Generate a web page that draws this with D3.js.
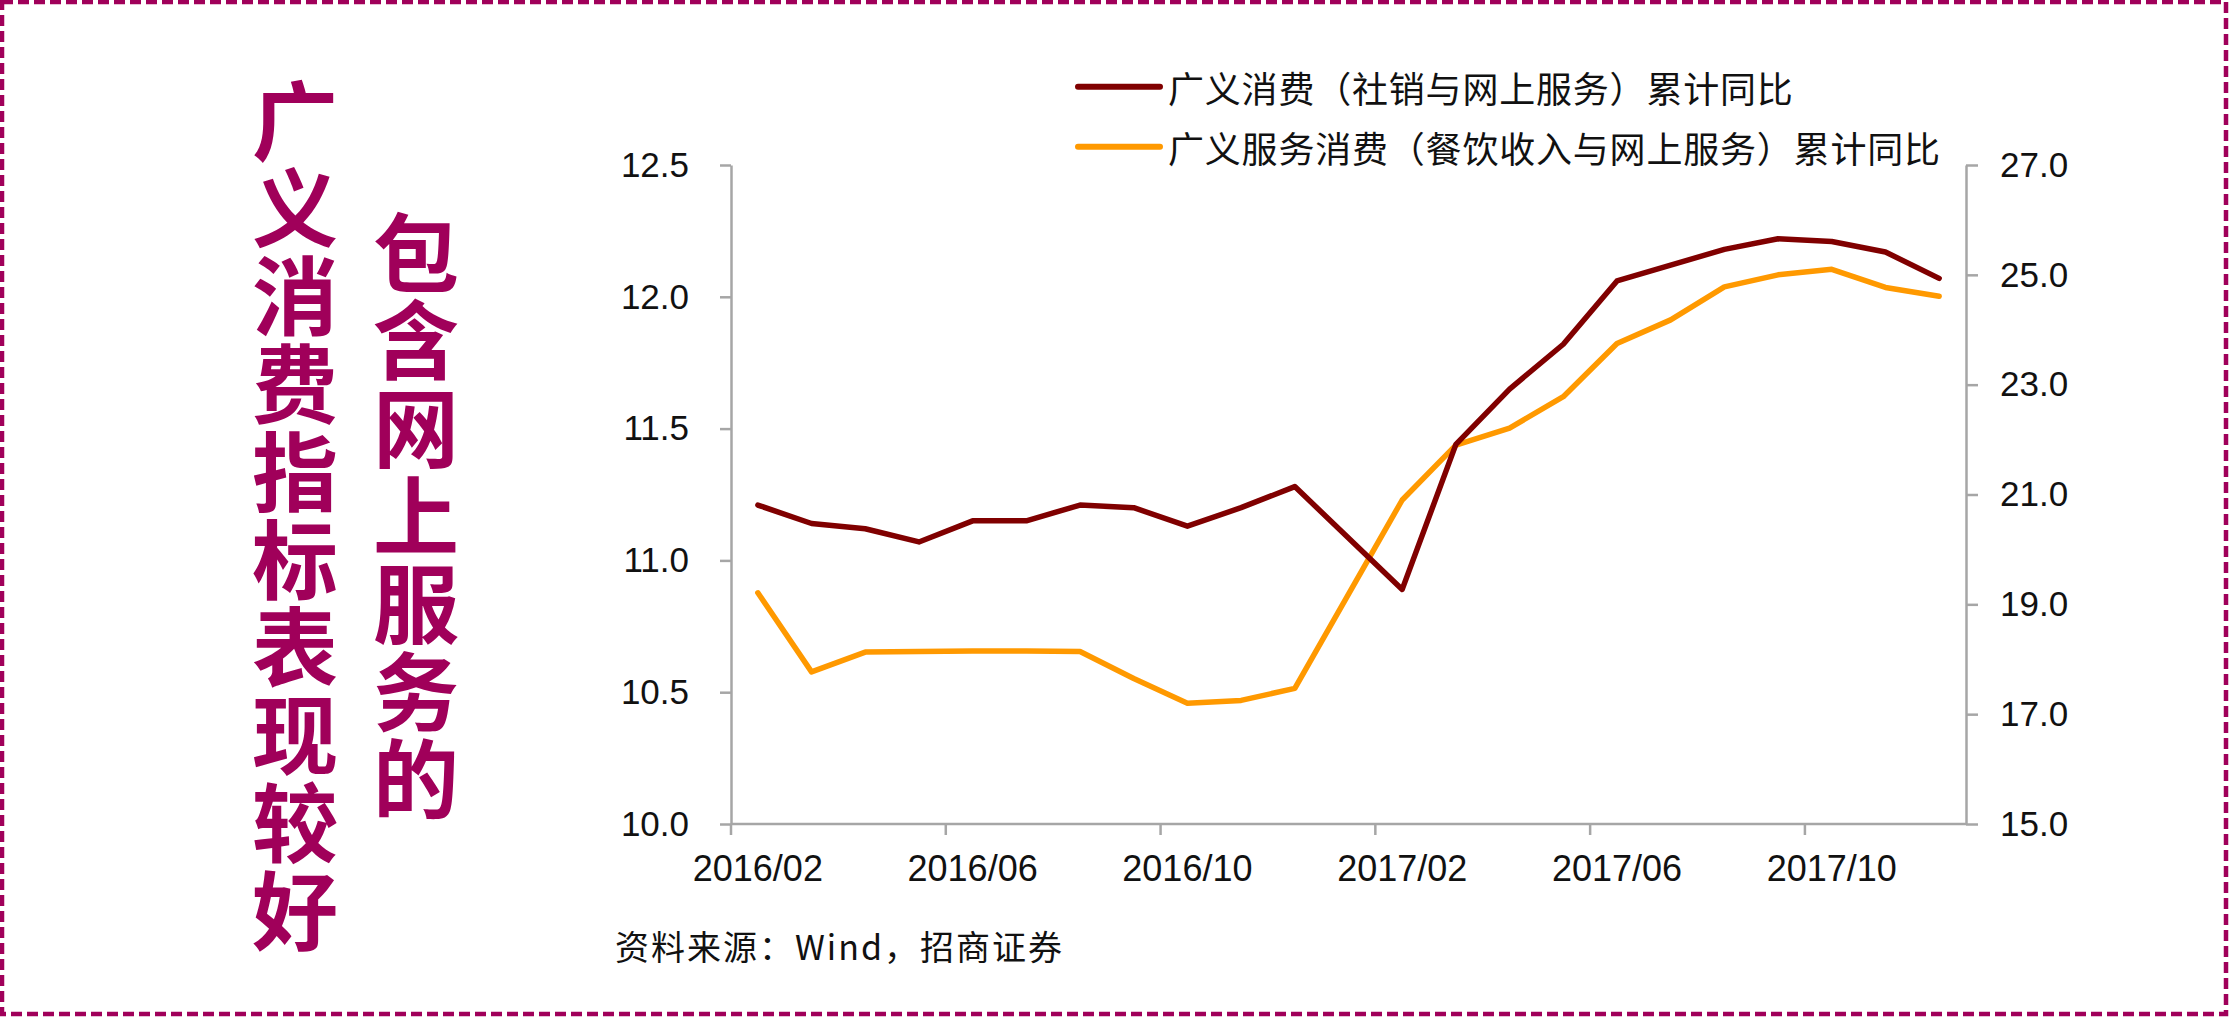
<!DOCTYPE html>
<html><head><meta charset="utf-8">
<script src="https://cdn.jsdelivr.net/npm/d3@7"></script>
<style>
html,body{margin:0;padding:0;background:#fff;}
svg{display:block;}
</style>
</head><body>
<script>
// ---- data ----
const months = ["2016/02","2016/03","2016/04","2016/05","2016/06","2016/07","2016/08","2016/09","2016/10","2016/11","2016/12",
  "2017/01","2017/02","2017/03","2017/04","2017/05","2017/06","2017/07","2017/08","2017/09","2017/10","2017/11","2017/12"];
const broadConsumption = [11.21,11.14,11.12,11.07,11.15,11.15,11.21,11.20,11.13,11.20,11.28,
  null,10.89,11.44,11.65,11.82,12.06,12.12,12.18,12.22,12.21,12.17,12.07];
const broadService = [19.21,17.77,18.13,18.14,18.15,18.15,18.14,17.65,17.20,17.25,17.47,
  null,20.90,21.90,22.21,22.78,23.75,24.18,24.78,25.00,25.10,24.77,24.61];
const seriesNames = ["广义消费（社销与网上服务）累计同比","广义服务消费（餐饮收入与网上服务）累计同比"];
const leftTicks = [10.0,10.5,11.0,11.5,12.0,12.5];
const rightTicks = [15.0,17.0,19.0,21.0,23.0,25.0,27.0];
const xLabelMonths = ["2016/02","2016/06","2016/10","2017/02","2017/06","2017/10"];
const titleCol1 = "广义消费指标表现较好";
const titleCol2 = "包含网上服务的";
const sourceText = "资料来源：Wind，招商证券";

// ---- layout ----
const W = 2229, H = 1017;
const plot = {left: 731, right: 1966, top: 165, bottom: 824};
const colors = {broad: "#800000", service: "#FF9900", axis: "#a6a6a6", accent: "#A0005A"};
const cjk = "'Noto Sans CJK SC','Noto Sans CJK JP',sans-serif";
const latin = "'Liberation Sans',Arial,sans-serif";

const svg = d3.select("body").append("svg").attr("width", W).attr("height", H);

// border
svg.append("rect").attr("x", 2).attr("y", 2).attr("width", 2224).attr("height", 1012)
  .attr("fill", "none").attr("stroke", colors.accent).attr("stroke-width", 4.5)
  .attr("stroke-dasharray", "11,5");

// title columns (vertical writing)
function vertText(str, cx, top) {
  svg.append("text").attr("x", cx).attr("y", top)
    .style("writing-mode", "vertical-rl")
    .style("letter-spacing", "1.8px")
    .attr("font-family", cjk).attr("font-size", 86)
    .attr("font-weight", 700).attr("fill", colors.accent)
    .text(str);
}
vertText(titleCol1, 295, 78);
vertText(titleCol2, 416, 210);

// scales
const x = d3.scaleBand().domain(months).range([plot.left, plot.right]).padding(0);
const yL = d3.scaleLinear().domain([10, 12.5]).range([plot.bottom, plot.top]);
const yR = d3.scaleLinear().domain([15, 27]).range([plot.bottom, plot.top]);
const cx = m => x(m) + x.bandwidth() / 2;

// left axis
const gL = svg.append("g").attr("transform", `translate(${plot.left},0)`)
  .call(d3.axisLeft(yL).tickValues(leftTicks).tickSize(11).tickSizeOuter(0).tickPadding(31).tickFormat(d3.format(".1f")));
// right axis
const gR = svg.append("g").attr("transform", `translate(${plot.right},0)`)
  .call(d3.axisRight(yR).tickValues(rightTicks).tickSize(12).tickSizeOuter(0).tickPadding(22).tickFormat(d3.format(".1f")));
[gL, gR].forEach(g => {
  g.selectAll("path.domain").attr("stroke", colors.axis).attr("stroke-width", 2.5);
  g.selectAll(".tick line").attr("stroke", colors.axis).attr("stroke-width", 2.5);
  g.selectAll(".tick text").attr("font-family", latin).attr("font-size", 35).attr("fill", "#111");
});

// bottom axis
const gB = svg.append("g");
gB.append("line").attr("x1", plot.left).attr("x2", plot.right).attr("y1", plot.bottom).attr("y2", plot.bottom)
  .attr("stroke", colors.axis).attr("stroke-width", 2.5);
gB.selectAll("line.tk").data(xLabelMonths).enter().append("line").attr("class", "tk")
  .attr("x1", d => x(d)).attr("x2", d => x(d)).attr("y1", plot.bottom).attr("y2", plot.bottom + 11)
  .attr("stroke", colors.axis).attr("stroke-width", 2.5);
gB.selectAll("text").data(xLabelMonths).enter().append("text")
  .attr("x", d => cx(d)).attr("y", plot.bottom + 57).attr("text-anchor", "middle")
  .attr("font-family", latin).attr("font-size", 36).attr("fill", "#111").text(d => d);

// lines
const lineL = d3.line().x(d => cx(d.m)).y(d => yL(d.v));
const lineR = d3.line().x(d => cx(d.m)).y(d => yR(d.v));
const dataL = months.map((m, i) => ({m, v: broadConsumption[i]})).filter(d => d.v != null);
const dataR = months.map((m, i) => ({m, v: broadService[i]})).filter(d => d.v != null);
svg.append("path").datum(dataR).attr("d", lineR).attr("fill", "none")
  .attr("stroke", colors.service).attr("stroke-width", 5.5).attr("stroke-linejoin", "round").attr("stroke-linecap", "round");
svg.append("path").datum(dataL).attr("d", lineL).attr("fill", "none")
  .attr("stroke", colors.broad).attr("stroke-width", 5.5).attr("stroke-linejoin", "round").attr("stroke-linecap", "round");

// legend
const legY = [86.7, 146.7];
const legColors = [colors.broad, colors.service];
seriesNames.forEach((name, i) => {
  svg.append("line").attr("x1", 1078).attr("x2", 1160).attr("y1", legY[i]).attr("y2", legY[i])
    .attr("stroke", legColors[i]).attr("stroke-width", 6).attr("stroke-linecap", "round");
  svg.append("text").attr("x", 1168).attr("y", legY[i]).attr("dominant-baseline", "central")
    .style("letter-spacing", "0.8px")
    .attr("font-family", cjk).attr("font-size", 36).attr("fill", "#111").text(name);
});

// source
svg.append("text").attr("x", 615).attr("y", 945).attr("dominant-baseline", "central")
  .style("letter-spacing", "2px")
  .attr("font-family", cjk).attr("font-size", 34).attr("fill", "#111").text(sourceText);
</script>
</body></html>
